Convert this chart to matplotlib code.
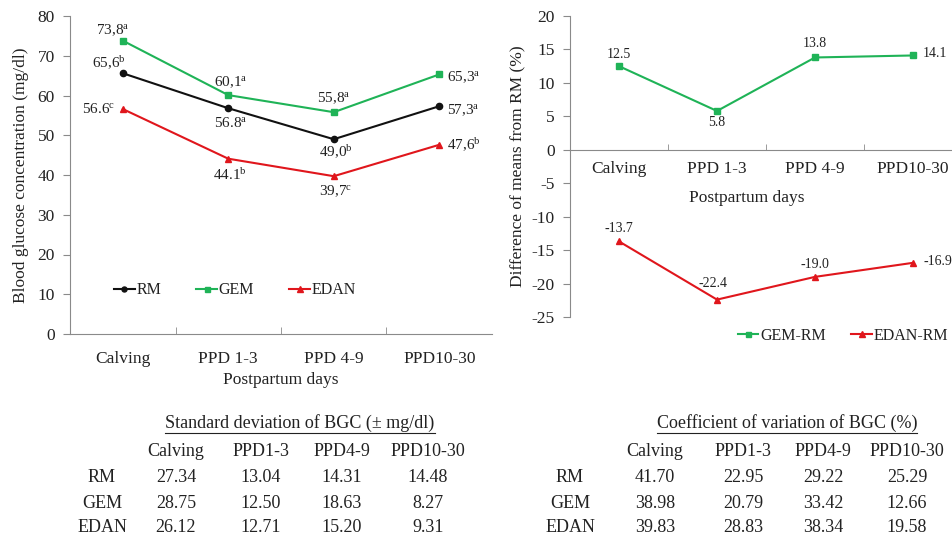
import matplotlib
matplotlib.use("Agg")
import matplotlib.pyplot as plt
from matplotlib.lines import Line2D

plt.rcParams['font.family'] = ['Liberation Serif', 'DejaVu Serif']
plt.rcParams['mathtext.fontset'] = 'custom'
plt.rcParams['mathtext.rm'] = 'Liberation Serif'
plt.rcParams['mathtext.it'] = 'Liberation Serif'
plt.rcParams['axes.unicode_minus'] = False

categories = ["Calving", "PPD 1-3", "PPD 4-9", "PPD10-30"]
rm = [65.6, 56.8, 49.0, 57.3]
gem = [73.8, 60.1, 55.8, 65.3]
edan = [56.6, 44.1, 39.7, 47.6]
rm_labels = ["65,6", "56.8", "49,0", "57,3"]
rm_sup = ["b", "a", "b", "a"]
gem_labels = ["73,8", "60,1", "55,8", "65,3"]
gem_sup = ["a", "a", "a", "a"]
edan_labels = ["56.6", "44.1", "39,7", "47,6"]
edan_sup = ["c", "b", "c", "b"]

gem_rm = [12.5, 5.8, 13.8, 14.1]
edan_rm = [-13.7, -22.4, -19.0, -16.9]

table_cols = ["Calving", "PPD1-3", "PPD4-9", "PPD10-30"]
table_rows = ["RM", "GEM", "EDAN"]
sd_values = [[27.34, 13.04, 14.31, 14.48],
             [28.75, 12.50, 18.63, 8.27],
             [26.12, 12.71, 15.20, 9.31]]
cv_values = [[41.70, 22.95, 29.22, 25.29],
             [38.98, 20.79, 33.42, 12.66],
             [39.83, 28.83, 38.34, 19.58]]

GREEN = '#1FB357'
RED = '#E0161C'
BLACK = '#111111'
SPINE = '#8a8a8a'
TXT = '#222222'

W, H = 952, 539
fig = plt.figure(figsize=(W/100, H/100), dpi=100)

def fx(px):
    return px / W

def fy(py):
    return 1 - py / H

# ---------------- Left chart ----------------
axL = fig.add_axes([fx(70), fy(334), fx(422), (334-16)/H])
x = list(range(len(categories)))
axL.plot(x, rm, color=BLACK, marker='o', ms=4.5, lw=1.5, label='RM')
axL.plot(x, gem, color=GREEN, marker='s', ms=4.5, lw=1.5, label='GEM')
axL.plot(x, edan, color=RED, marker='^', ms=5, lw=1.5, label='EDAN')
axL.set_xlim(-0.5, 3.5)
axL.set_ylim(0, 80)
axL.set_yticks(range(0, 81, 10))
axL.set_xticks(x)
axL.set_xticklabels(categories)
axL.set_xticks([0.5, 1.5, 2.5], minor=True)
axL.tick_params(axis='x', which='major', length=0, pad=12, labelsize=12.5, colors=TXT)
axL.tick_params(axis='x', which='minor', length=5, color=SPINE, direction='in')
axL.tick_params(axis='y', length=5, color=SPINE, labelsize=12.5, colors=TXT, pad=6)
for s in ['top', 'right']:
    axL.spines[s].set_visible(False)
for s in ['left', 'bottom']:
    axL.spines[s].set_color(SPINE)
axL.set_xlabel("Postpartum days", fontsize=12.5, color=TXT, labelpad=4)
axL.set_ylabel("Blood glucose concentration (mg/dl)", fontsize=12.5, color=TXT, labelpad=6)

def lab(ax, xi, yi, txt, sup, dx, dy, ha='center'):
    ax.annotate(txt + r"$^{\mathrm{" + sup + "}}$", (xi, yi), xytext=(dx, dy),
                textcoords='offset pixels', ha=ha, va='center', fontsize=11, color=TXT)

gem_off = [(-10, 10, 'center'), (2, 13, 'center'), (0, 14, 'center'), (8, -3, 'left')]
rm_off = [(-14, 10, 'center'), (2, -15, 'center'), (2, -13, 'center'), (8, -4, 'left')]
edan_off = [(-8, 0, 'right'), (2, -16, 'center'), (2, -15, 'center'), (8, 0, 'left')]
for i in x:
    dx, dy, ha = gem_off[i]
    lab(axL, i, gem[i], gem_labels[i], gem_sup[i], dx, dy, ha)
    dx, dy, ha = rm_off[i]
    lab(axL, i, rm[i], rm_labels[i], rm_sup[i], dx, dy, ha)
    dx, dy, ha = edan_off[i]
    lab(axL, i, edan[i], edan_labels[i], edan_sup[i], dx, dy, ha)

axL.legend(loc='center left', bbox_to_anchor=(0.07, 0.137), ncol=3, frameon=False,
           fontsize=11.5, handlelength=1.3, handletextpad=0.1, columnspacing=2.2,
           markerscale=0.8, labelcolor=TXT)

# ---------------- Right chart ----------------
axR = fig.add_axes([fx(570), fy(317), fx(392), (317-16)/H])
axR.plot(x, gem_rm, color=GREEN, marker='s', ms=4.5, lw=1.5, label='GEM-RM')
axR.plot(x, edan_rm, color=RED, marker='^', ms=5, lw=1.5, label='EDAN-RM')
axR.set_xlim(-0.5, 3.5)
axR.set_ylim(-25, 20)
axR.set_yticks(range(-25, 21, 5))
axR.spines['bottom'].set_position(('data', 0))
axR.set_xticks(x)
axR.set_xticklabels(categories)
axR.set_xticks([0.5, 1.5, 2.5], minor=True)
axR.tick_params(axis='x', which='major', length=0, pad=8, labelsize=12.5, colors=TXT)
axR.tick_params(axis='x', which='minor', length=4, color=SPINE, direction='in')
axR.tick_params(axis='y', length=5, color=SPINE, labelsize=12.5, colors=TXT, pad=6)
for s in ['top', 'right']:
    axR.spines[s].set_visible(False)
for s in ['left', 'bottom']:
    axR.spines[s].set_color(SPINE)
axR.set_ylabel("Difference of means from RM (%)", fontsize=12.5, color=TXT, labelpad=4)
fig.text(fx(747), fy(198), "Postpartum days", ha='center', va='center', fontsize=12.5, color=TXT)

gr_off = [(0, 12, 'center'), (0, -12, 'center'), (0, 14, 'center'), (10, 2, 'left')]
er_off = [(0, 13, 'center'), (-4, 16, 'center'), (0, 12, 'center'), (10, 1, 'left')]
for i in x:
    dx, dy, ha = gr_off[i]
    axR.annotate(f"{gem_rm[i]:.1f}", (i, gem_rm[i]), xytext=(dx, dy), textcoords='offset pixels',
                 ha=ha, va='center', fontsize=10, color=TXT)
    dx, dy, ha = er_off[i]
    axR.annotate(f"{edan_rm[i]:.1f}", (i, edan_rm[i]), xytext=(dx, dy), textcoords='offset pixels',
                 ha=ha, va='center', fontsize=10, color=TXT)

fig.legend(handles=axR.get_lines(), loc='center', bbox_to_anchor=(fx(843), fy(336)), ncol=2,
           frameon=False, fontsize=11.5, handlelength=1.3, handletextpad=0.1, columnspacing=1.6,
           markerscale=0.8, labelcolor=TXT)

# ---------------- Tables ----------------
titles = []
def table(title, cx_title, col_x, row_x, values):
    t = fig.text(fx(cx_title), fy(423), title, ha='center', va='center', fontsize=13, color=TXT)
    titles.append(t)
    for cx, c in zip(col_x, table_cols):
        fig.text(fx(cx), fy(452), c, ha='center', va='center', fontsize=13, color=TXT)
    for r, ry in zip(range(len(table_rows)), [477, 503, 528]):
        fig.text(fx(row_x), fy(ry), table_rows[r], ha='center', va='center', fontsize=13, color=TXT)
        for cx, v in zip(col_x, values[r]):
            fig.text(fx(cx), fy(ry), f"{v:.2f}", ha='center', va='center', fontsize=13, color=TXT)

table("Standard deviation of BGC (\u00b1 mg/dl)", 300, [176, 261, 342, 428], 102, sd_values)
table("Coefficient of variation of BGC (%)", 787, [655, 743, 823, 907], 570, cv_values)

fig.canvas.draw()
r = fig.canvas.get_renderer()
for t in titles:
    bb = t.get_window_extent(r)
    y0 = bb.y0 - 1
    fig.add_artist(Line2D([bb.x0 / W, bb.x1 / W], [y0 / H, y0 / H], color=TXT, lw=0.8,
                          transform=fig.transFigure))

fig.savefig("out.png", dpi=100)
